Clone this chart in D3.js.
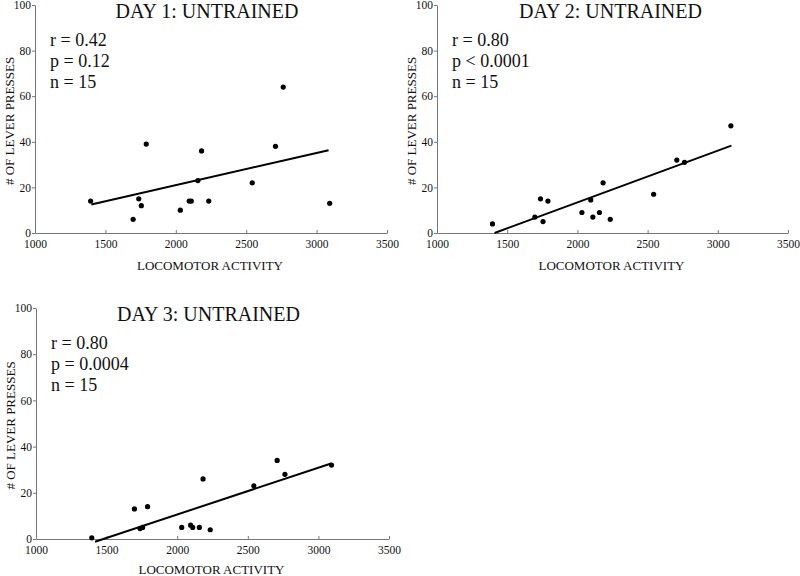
<!DOCTYPE html>
<html>
<head>
<meta charset="utf-8">
<script src="https://cdn.jsdelivr.net/npm/d3@7"></script>
<style>
  html, body { margin: 0; padding: 0; background: #fff; }
  svg { display: block; }
  text { font-family: "Liberation Serif", "DejaVu Serif", serif; fill: #111; }
</style>
</head>
<body>
<svg id="chart" width="800" height="576"></svg>
<script>
// ---- data ----
const locomotorActivity = [1395, 1697, 1737, 1755, 1790, 2032, 2095, 2110, 2157, 2183, 2234, 2543, 2708, 2763, 3093];
const day1Presses = [14, 6, 15, 12, 39, 10, 14, 14, 23, 36, 14, 22, 38, 64, 13];
const day2Presses = [4, 7, 15, 5, 14, 9, 14.5, 7, 9, 22, 6, 17, 32, 31, 47];
const day3Presses = [0.5, 13, 4.5, 5, 14, 5, 6, 5, 5, 26, 4, 23, 34, 28, 32];
const day1Fit = [[1400, 12.5], [3085, 36.3]];
const day2Fit = [[1410, 0], [3097, 38.3]];
const day3Fit = [[1418, -1.2], [3090, 32.7]];
const panelTitles = ["DAY 1: UNTRAINED", "DAY 2: UNTRAINED", "DAY 3: UNTRAINED"];
const day1Stats = ["r = 0.42", "p = 0.12", "n = 15"];
const day2Stats = ["r = 0.80", "p < 0.0001", "n = 15"];
const day3Stats = ["r = 0.80", "p = 0.0004", "n = 15"];
const xTicks = [1000, 1500, 2000, 2500, 3000, 3500];
const yTicks = [0, 20, 40, 60, 80, 100];
const xDomain = [1000, 3500];
const yDomain = [0, 100];
const xTitle = "LOCOMOTOR ACTIVITY";
const yTitle = "# OF LEVER PRESSES";

// ---- layout ----
const svg = d3.select("#chart");
const panels = [
  { x0: 35,  x1: 387, y0: 233, y1: 5,   ys: day1Presses, fit: day1Fit, title: panelTitles[0], stats: day1Stats, tdx: -4, xty: 37 },
  { x0: 437, x1: 788, y0: 233, y1: 5,   ys: day2Presses, fit: day2Fit, title: panelTitles[1], stats: day2Stats, tdx: -2, xty: 37 },
  { x0: 36,  x1: 389, y0: 539, y1: 308, ys: day3Presses, fit: day3Fit, title: panelTitles[2], stats: day3Stats, tdx: -4, xty: 35 }
];

panels.forEach(p => {
  const g = svg.append("g");
  const x = d3.scaleLinear().domain(xDomain).range([p.x0, p.x1]);
  const y = d3.scaleLinear().domain(yDomain).range([p.y0, p.y1]);

  const xa = g.append("g").attr("transform", `translate(0,${p.y0})`)
    .call(d3.axisBottom(x).tickValues(xTicks).tickFormat(d3.format("d"))
      .tickSizeInner(-3).tickSizeOuter(0).tickPadding(7));
  const ya = g.append("g").attr("transform", `translate(${p.x0},0)`)
    .call(d3.axisLeft(y).tickValues(yTicks).tickFormat(d3.format("d"))
      .tickSizeInner(3).tickSizeOuter(0).tickPadding(1));
  [xa, ya].forEach(a => {
    a.select(".domain").attr("stroke", "#777").attr("stroke-width", 1);
    a.selectAll(".tick line").attr("stroke", "#777");
    a.selectAll(".tick text").attr("fill", "#111")
      .style("font-family", '"Liberation Serif", serif').style("font-size", "11.5px");
  });

  // regression line
  g.append("path")
    .datum(p.fit)
    .attr("d", d3.line().x(d => x(d[0])).y(d => y(d[1])))
    .attr("stroke", "#000").attr("stroke-width", 2).attr("fill", "none");

  // points
  g.selectAll("circle.pt")
    .data(locomotorActivity.map((v, i) => [v, p.ys[i]]))
    .join("circle").attr("class", "pt")
    .attr("cx", d => x(d[0])).attr("cy", d => y(d[1]))
    .attr("r", 2.6).attr("fill", "#000");

  // title
  const cx = (p.x0 + p.x1) / 2;
  g.append("text").attr("x", cx + p.tdx).attr("y", p.y1 + 13)
    .attr("text-anchor", "middle").style("font-size", "20px").text(p.title);

  // stats
  g.selectAll("text.stat").data(p.stats).join("text").attr("class", "stat")
    .attr("x", p.x0 + 15).attr("y", (d, i) => p.y1 + 41 + i * 21)
    .style("font-size", "18px").text(d => d);

  // axis titles
  g.append("text").attr("x", cx - 1).attr("y", p.y0 + p.xty)
    .attr("text-anchor", "middle").style("font-size", "13px").text(xTitle);
  g.append("text")
    .attr("transform", `translate(${p.x0 - 21},${(p.y0 + p.y1) / 2 + 2}) rotate(-90)`)
    .attr("text-anchor", "middle").style("font-size", "13px").text(yTitle);
});
</script>
</body>
</html>
